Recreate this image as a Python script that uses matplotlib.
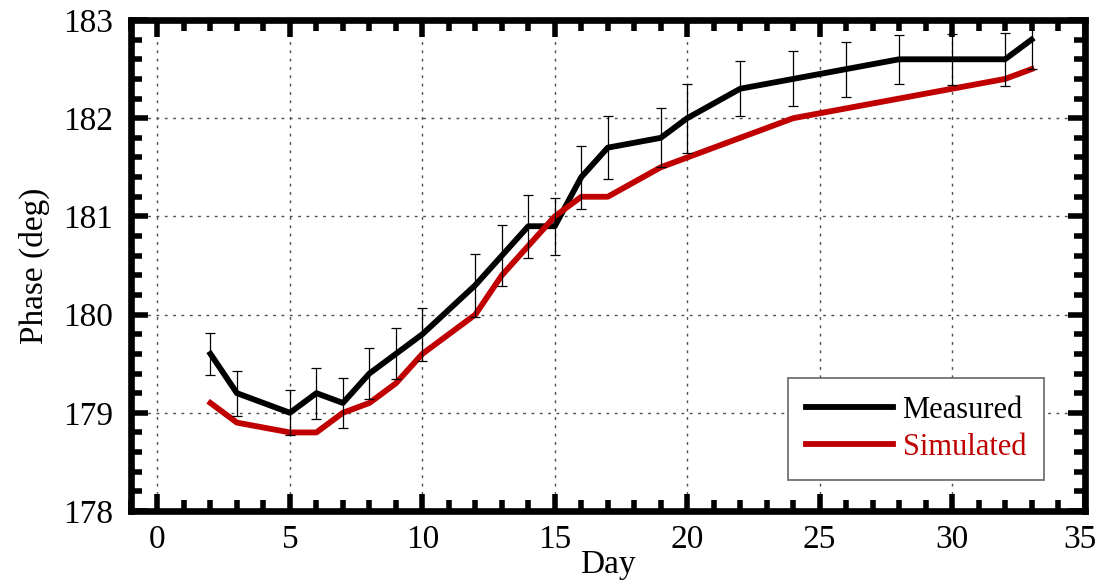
import matplotlib
matplotlib.use('Agg')
import matplotlib.pyplot as plt
import matplotlib.transforms as mtransforms
from matplotlib.ticker import MultipleLocator

plt.rcParams['font.family'] = ['Liberation Serif', 'DejaVu Serif']

# measured phase with error bars
days_meas = [2, 3, 5, 6, 7, 8, 9, 10, 12, 13, 14, 15, 16, 17, 19, 20, 22, 24, 26, 28, 30, 32, 33]
phase_meas = [179.6, 179.2, 179.0, 179.2, 179.1, 179.4, 179.6, 179.8, 180.3, 180.6, 180.9, 180.9,
              181.4, 181.7, 181.8, 182.0, 182.3, 182.4, 182.5, 182.6, 182.6, 182.6, 182.8]
err_meas = [0.21, 0.23, 0.23, 0.26, 0.25, 0.26, 0.26, 0.27, 0.32, 0.31, 0.32, 0.29,
            0.32, 0.32, 0.30, 0.35, 0.28, 0.28, 0.28, 0.25, 0.26, 0.27, 0.30]

# simulated phase
days_sim = [2, 3, 5, 6, 7, 8, 9, 10, 12, 13, 14, 15, 16, 17, 19, 20, 22, 24, 26, 28, 30, 32, 33]
phase_sim = [179.1, 178.9, 178.8, 178.8, 179.0, 179.1, 179.3, 179.6, 180.0, 180.4, 180.7, 181.0,
             181.2, 181.2, 181.5, 181.6, 181.8, 182.0, 182.1, 182.2, 182.3, 182.4, 182.5]

xticks = [0, 5, 10, 15, 20, 25, 30, 35]

fig = plt.figure(figsize=(10.97, 5.82), dpi=100)
ax = fig.add_axes([131 / 1097, 71 / 582, 953.5 / 1097, 491 / 582])

ax.errorbar(days_meas, phase_meas, yerr=err_meas, fmt='none', ecolor='black',
            elinewidth=0.9, capsize=3.6, capthick=0.9, zorder=4)
ax.plot(days_meas, phase_meas, color='black', lw=4.2, label='Measured', zorder=3)
ax.plot(days_sim, phase_sim, color='#c00000', lw=4.2, label='Simulated', zorder=3)

ax.set_xlim(-1, 35)
ax.set_ylim(178, 183)
ax.set_xticks(xticks, [str(t) for t in xticks])
ax.xaxis.set_minor_locator(MultipleLocator(1))
ax.yaxis.set_major_locator(MultipleLocator(1))
ax.yaxis.set_minor_locator(MultipleLocator(0.2))

ax.grid(True, which='major', color='0.3', linestyle=(0, (2, 4)), lw=1)

for s in ax.spines.values():
    s.set_linewidth(4.8)
ax.tick_params(which='both', direction='in', top=True, right=True, labelsize=24)
ax.tick_params(which='major', length=12, width=4, pad=10)
ax.tick_params(which='minor', length=8, width=4)
ax.tick_params(axis='y', which='major', pad=13)

ax.set_xlabel('Day', fontsize=24, labelpad=-4)
ax.set_ylabel('Phase (deg)', fontsize=24, labelpad=9)

# nudge the "35" label a few pixels left so it stays inside the figure
shift = mtransforms.ScaledTranslation(-5 / 100, 0, fig.dpi_scale_trans)
last_tick = ax.xaxis.get_major_ticks()[len(xticks) - 1]
last_tick.label1.set_transform(last_tick.label1.get_transform() + shift)

leg = ax.legend(loc='lower right', bbox_to_anchor=(0.958, 0.063), borderaxespad=0, fontsize=22,
                handlelength=2.85, fancybox=False, framealpha=1, edgecolor='0.4',
                borderpad=0.6, labelspacing=0.25, handletextpad=0.3)
leg.get_frame().set_linewidth(1.2)
for txt, line in zip(leg.get_texts(), leg.get_lines()):
    txt.set_color(line.get_color())

fig.savefig('out.png', dpi=100)
